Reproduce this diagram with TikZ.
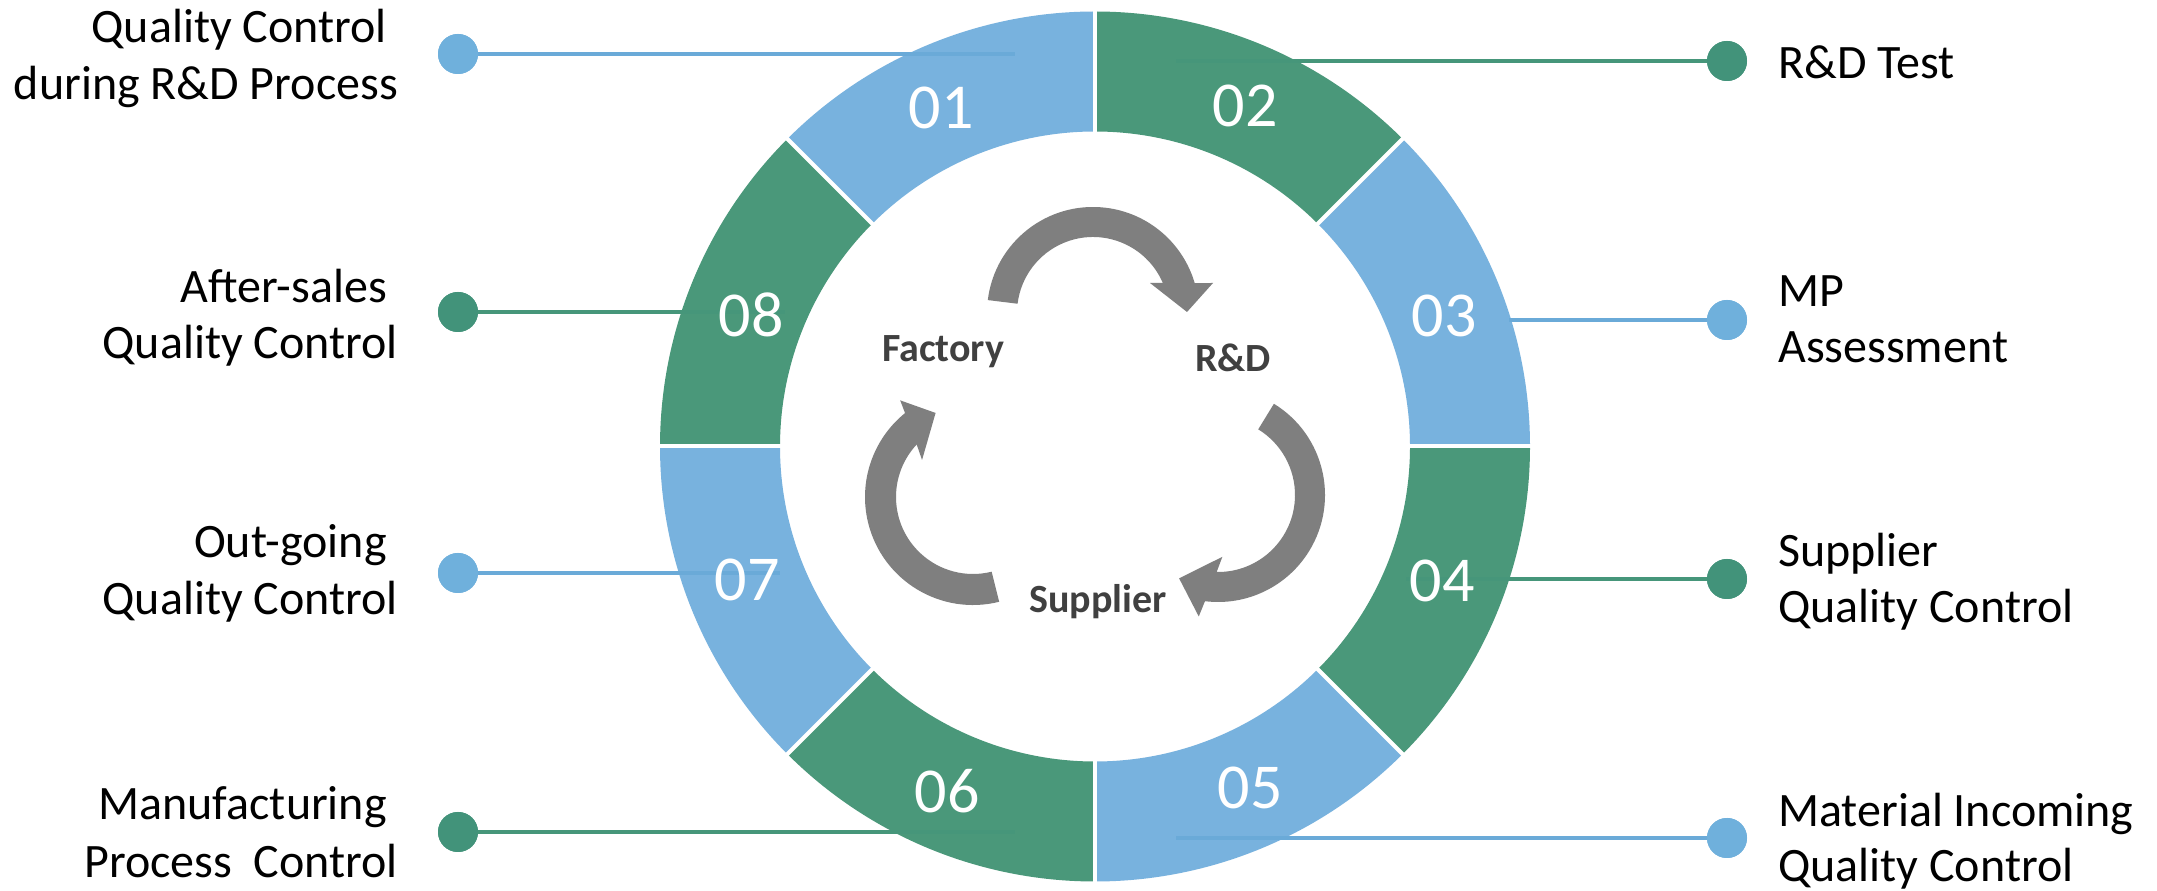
\documentclass[tikz,border=0pt]{standalone}
\usepackage{fontspec}
\setmainfont{Carlito}
\definecolor{ringblue}{HTML}{78B2DE}
\definecolor{ringgreen}{HTML}{4A987A}
\definecolor{dotblue}{HTML}{6FB0DC}
\definecolor{dotgreen}{HTML}{42937A}
\definecolor{lnblue}{HTML}{6AAAD8}
\definecolor{lngreen}{HTML}{46967A}
\definecolor{arrowgray}{HTML}{7F7F7F}
\definecolor{lbldark}{HTML}{404040}
\tikzset{
  dotb/.style={circle, fill=dotblue, minimum size=40, inner sep=0},
  dotg/.style={circle, fill=dotgreen, minimum size=40, inner sep=0},
  lnb/.style={draw=lnblue, line width=4},
  lng/.style={draw=lngreen, line width=4},
  num/.style={font=\fontsize{64}{64}\selectfont, text=white, inner sep=0},
  sidel/.style={font=\fontsize{48}{56}\selectfont, text=black, inner sep=0, anchor=base east},
  sider/.style={font=\fontsize{48}{56}\selectfont, text=black, inner sep=0, anchor=base west},
  hub/.style={font=\fontsize{40}{44}\selectfont\bfseries, text=lbldark, inner sep=0, anchor=base west},
  cyclearrow/.style={fill=arrowgray}
}
\begin{document}
\begin{tikzpicture}[x=1pt,y=1pt]
\useasboundingbox (0,0) rectangle (2157,891);
\fill[white] (0,0) rectangle (2157,891);
% ring
\begin{scope}[shift={(1095,444.5)}]
  \foreach \a/\b/\c in {90/135/ringblue,45/90/ringgreen,0/45/ringblue,-45/0/ringgreen,-90/-45/ringblue,-135/-90/ringgreen,180/225/ringblue,135/180/ringgreen}
    \fill[\c] (\a:435) arc[start angle=\a, end angle=\b, radius=435] -- (\b:315) arc[start angle=\b, end angle=\a, radius=315] -- cycle;
  \foreach \a in {0,45,...,315}
    \draw[white, line width=4] (\a:312) -- (\a:438);
\end{scope}
% dots and connector ends
\node[dotb] (d1) at (458,837) {};
\node[dotg] (d2) at (1727,830) {};
\node[dotb] (d3) at (1727,571) {};
\node[dotg] (d4) at (1727,312) {};
\node[dotb] (d5) at (1727,53) {};
\node[dotg] (d6) at (458,59) {};
\node[dotb] (d7) at (458,318) {};
\node[dotg] (d8) at (458,579) {};
\coordinate (e1) at (1015,837);
\coordinate (e2) at (1176,830);
\coordinate (e3) at (1509,571);
\coordinate (e4) at (1406,312);
\coordinate (e5) at (1176,53);
\coordinate (e6) at (1015,59);
\coordinate (e7) at (780,318);
\coordinate (e8) at (785,579);
\draw[lnb] (d1.center) -- (e1);
\draw[lng] (d2.center) -- (e2);
\draw[lnb] (d3.center) -- (e3);
\draw[lng] (d4.center) -- (e4);
\draw[lnb] (d5.center) -- (e5);
\draw[lng] (d6.center) -- (e6);
\draw[lnb] (d7.center) -- (e7);
\draw[lng] (d8.center) -- (e8);
\node[dotb] at (d1) {};
\node[dotg] at (d2) {};
\node[dotb] at (d3) {};
\node[dotg] at (d4) {};
\node[dotb] at (d5) {};
\node[dotg] at (d6) {};
\node[dotb] at (d7) {};
\node[dotg] at (d8) {};
% numbers
\node[num] (n1) at (941,783) {01};
\node[num] (n2) at (1245,785) {02};
\node[num] (n3) at (1444,575) {03};
\node[num] (n4) at (1442,310) {04};
\node[num] (n5) at (1250,103) {05};
\node[num] (n6) at (947,100) {06};
\node[num] (n7) at (747,311) {07};
\node[num] (n8) at (751,576) {08};
% left texts
\node[sidel] (t1a) at (387,848) {Quality Control};
\node[sidel] (t1b) at (398,791) {during R\&D Process};
\node[sidel] (t8a) at (387,588) {After-sales};
\node[sidel] (t8b) at (398,532) {Quality Control};
\node[sidel] (t7a) at (387,333) {Out-going};
\node[sidel] (t7b) at (398,276) {Quality Control};
\node[sidel] (t6a) at (387,71) {Manufacturing};
\node[sidel] (t6b) at (398,13) {Process\ \ Control};
% right texts
\node[sider] (t2a) at (1778,812) {R\&D Test};
\node[sider] (t3a) at (1778,584) {MP};
\node[sider] (t3b) at (1778,528) {Assessment};
\node[sider] (t4a) at (1778,324) {Supplier};
\node[sider] (t4b) at (1778,268) {Quality Control};
\node[sider] (t5a) at (1778,64) {Material Incoming};
\node[sider] (t5b) at (1778,9) {Quality Control};
% hub labels
\node[hub] (hf) at (882,529) {Factory};
\node[hub] (hr) at (1195,519) {R\&D};
\node[hub] (hs) at (1029,278) {Supplier};
% cycle arrows
\begin{scope}[shift={(1093,578)}]
  \fill[cyclearrow] (173:106) arc[start angle=173, end angle=16.4, radius=106] -- (120,30) -- (94,1) -- (57,30) -- (23.3:76) arc[start angle=23.3, end angle=173, radius=76] -- cycle;
\end{scope}
\begin{scope}[shift={(1218,396)}]
  \fill[cyclearrow] (58.5:107) arc[start angle=58.5, end angle=-97, radius=107] -- (-99:123) -- (-115:92) -- (-86:62) -- (-91:77) arc[start angle=-91, end angle=58.5, radius=77] -- cycle;
\end{scope}
\begin{scope}[shift={(973,394)}]
  \fill[cyclearrow] (-76:108) arc[start angle=-76, end angle=-231, radius=108] -- (127:121) -- (114:92) -- (144:63) -- (137:77) arc[start angle=-223, end angle=-76, radius=77] -- cycle;
\end{scope}
\end{tikzpicture}
\end{document}
